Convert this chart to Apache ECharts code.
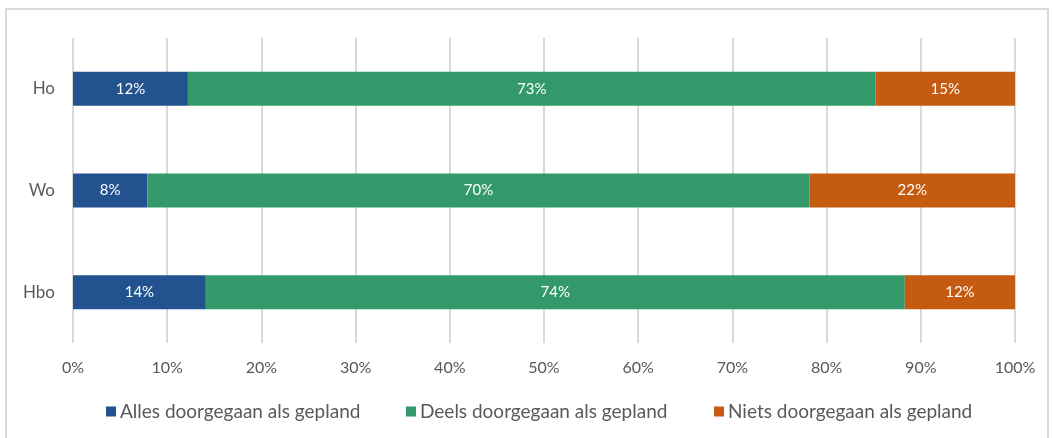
<!DOCTYPE html>
<html><head><meta charset="utf-8">
<script src="https://cdn.jsdelivr.net/npm/echarts@6/dist/echarts.min.js"></script>
<style>
html,body{margin:0;padding:0;background:#fff;}
#frame{position:absolute;left:5px;top:8px;width:1044px;height:440px;border:2px solid #d9d9d9;box-sizing:border-box;}
#c{position:absolute;left:0;top:0;width:1052px;height:438px;}
</style></head>
<body><div id="frame"></div><div id="c"></div>
<script>
const categories = ['Ho', 'Wo', 'Hbo'];
const seriesNames = ['Alles doorgegaan als gepland', 'Deels doorgegaan als gepland', 'Niets doorgegaan als gepland'];
const alles = [12.2, 7.9, 14.1];
const deels = [73.0, 70.3, 74.2];
const niets = [14.8, 21.8, 11.7];
const colors = ['#22538f', '#34996a', '#c55a11'];
const FONT = 'Lato';
const chart = echarts.init(document.getElementById('c'), null, {renderer: 'canvas'});
const mk = (name, data, color) => ({
  name, type: 'bar', stack: 'total', data, barWidth: 34,
  itemStyle: {color},
  label: {show: true, position: 'inside', color: '#fff', fontFamily: FONT, fontSize: 15,
    formatter: p => Math.round(p.value) + '%'}
});
const legendLefts = [106, 406, 714];
chart.setOption({
  animation: false,
  textStyle: {fontFamily: FONT},
  grid: {left: 73, right: 37, top: 38, bottom: 95, containLabel: false},
  legend: seriesNames.map((n, i) => ({
    top: 402, left: legendLefts[i], padding: 0, itemWidth: 10, itemHeight: 10, itemGap: 0,
    icon: 'rect',
    textStyle: {color: '#595959', fontSize: 19, fontFamily: FONT, padding: [0, 0, 0, -1]},
    data: [n]
  })),
  xAxis: {
    type: 'value', min: 0, max: 100, interval: 10,
    axisLine: {show: false}, axisTick: {show: false},
    axisLabel: {formatter: v => v + '%', color: '#595959', fontSize: 16, fontFamily: FONT, margin: 17},
    splitLine: {lineStyle: {color: '#d9d9d9', width: 2}}
  },
  yAxis: {
    type: 'category', data: categories, inverse: true,
    axisLine: {show: false}, axisTick: {show: false},
    axisLabel: {color: '#595959', fontSize: 17, fontFamily: FONT, margin: 18}
  },
  series: [mk(seriesNames[0], alles, colors[0]), mk(seriesNames[1], deels, colors[1]), mk(seriesNames[2], niets, colors[2])]
});
</script></body></html>
